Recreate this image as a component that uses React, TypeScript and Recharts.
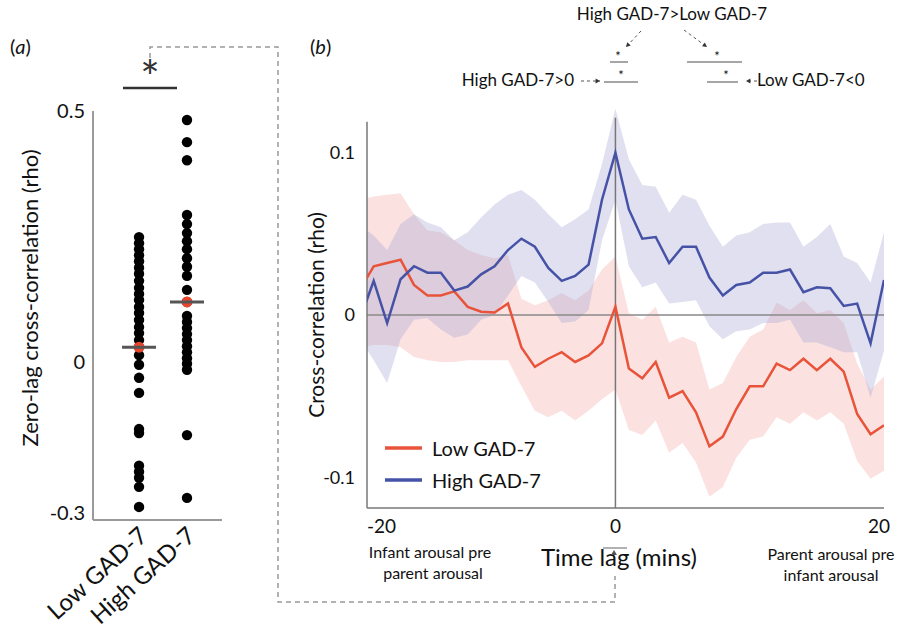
import React from "react";
import {
  ScatterChart,
  ComposedChart,
  Scatter,
  XAxis,
  YAxis,
  Line,
  Area,
  ReferenceLine,
  Legend,
} from "recharts";

const FONT = "Lato, 'Open Sans', sans-serif";

// ---------- Panel (a): zero-lag cross-correlation per participant ----------
const groups = ["Low GAD-7", "High GAD-7"];
const lowGadZeroLag = [
  0.249, 0.237, 0.225, 0.213, 0.201, 0.188, 0.176, 0.162, 0.148, 0.136, 0.124,
  0.11, 0.098, 0.084, 0.07, 0.058, 0.044, 0.03, 0.014, -0.005, -0.031, -0.061,
  -0.133, -0.141, -0.206, -0.218, -0.23, -0.248, -0.288,
];
const highGadZeroLag = [
  0.482, 0.438, 0.402, 0.293, 0.275, 0.257, 0.241, 0.225, 0.207, 0.19, 0.172,
  0.144, 0.12, 0.092, 0.08, 0.068, 0.056, 0.044, 0.032, 0.02, 0.008, -0.003,
  -0.015, -0.145, -0.27,
];
const groupMeans = [0.03, 0.12];
const aYTicks = [-0.3, 0, 0.5];

// ---------- Panel (b): cross-correlation by time lag ----------
const lags = [
  -19, -18, -17, -16, -15, -14, -13, -12, -11, -10, -9, -8, -7, -6, -5, -4, -3,
  -2, -1, 0, 1, 2, 3, 4, 5, 6, 7, 8, 9, 10, 11, 12, 13, 14, 15, 16, 17, 18, 19,
  20,
];
const highMean = [
  -0.002, 0.021, -0.005, 0.022, 0.03, 0.026, 0.026, 0.015, 0.0175, 0.025, 0.03,
  0.04, 0.047, 0.042, 0.029, 0.021, 0.024, 0.031, 0.071, 0.1, 0.065, 0.047,
  0.048, 0.032, 0.042, 0.042, 0.023, 0.012, 0.0185, 0.02, 0.026, 0.026, 0.028,
  0.014, 0.017, 0.0165, 0.0055, 0.007, -0.0175, 0.0215,
];
const highUpper = [
  0.055, 0.049, 0.04, 0.056, 0.062, 0.057, 0.054, 0.046, 0.051, 0.06, 0.068,
  0.074, 0.077, 0.071, 0.062, 0.054, 0.059, 0.065, 0.093, 0.127, 0.096, 0.08,
  0.079, 0.063, 0.074, 0.071, 0.055, 0.042, 0.049, 0.051, 0.056, 0.057, 0.057,
  0.042, 0.048, 0.056, 0.036, 0.032, 0.02, 0.051,
];
const highLower = [
  -0.015, -0.028, -0.042, -0.015, -0.003, -0.002, -0.009, -0.014, -0.012,
  -0.003, 0.0, 0.012, 0.024, 0.02, 0.008, -0.005, -0.004, 0.003, 0.046, 0.071,
  0.03, 0.017, 0.02, 0.007, 0.008, 0.009, -0.007, -0.015, -0.01, -0.009,
  -0.005, -0.005, -0.003, -0.017, -0.017, -0.02, -0.023, -0.023, -0.051,
  -0.022,
];
const lowMean = [
  0.016, 0.03, 0.032, 0.034, 0.0185, 0.012, 0.012, 0.0145, 0.005, 0.002,
  0.0015, 0.007, -0.02, -0.032, -0.027, -0.023, -0.029, -0.025, -0.0175, 0.005,
  -0.033, -0.039, -0.029, -0.051, -0.047, -0.06, -0.081, -0.075, -0.058,
  -0.044, -0.044, -0.03, -0.034, -0.027, -0.034, -0.027, -0.035, -0.061,
  -0.0735, -0.068,
];
const lowUpper = [
  0.071, 0.073, 0.074, 0.075, 0.062, 0.052, 0.051, 0.046, 0.04, 0.037, 0.035,
  0.037, 0.01, 0.006, 0.009, 0.0135, 0.009, 0.015, 0.028, 0.036, 0.001,
  -0.003, 0.005, -0.017, -0.0135, -0.017, -0.046, -0.042, -0.026, -0.0135,
  -0.009, 0.0075, 0.003, 0.009, 0.001, 0.003, -0.005, -0.03, -0.046, -0.038,
];
const lowLower = [
  -0.02, -0.0185, -0.0185, -0.02, -0.026, -0.028, -0.029, -0.029, -0.028,
  -0.028, -0.028, -0.028, -0.044, -0.059, -0.063, -0.059, -0.065, -0.059,
  -0.052, -0.046, -0.071, -0.074, -0.065, -0.085, -0.079, -0.091, -0.112,
  -0.106, -0.088, -0.077, -0.075, -0.063, -0.067, -0.06, -0.065, -0.06, -0.067,
  -0.09, -0.101, -0.096,
];
const bYTicks = [-0.1, 0, 0.1];
const bXTicks = [-18.5, 0, 20];
const bXTickLabels = ["-20", "0", "20"];
const seriesNames = ["Low GAD-7", "High GAD-7"];

const RED = "#e8533a";
const BLUE = "#4652a6";

const pointsA = [
  ...lowGadZeroLag.map((v) => ({ g: 1, v })),
  ...highGadZeroLag.map((v) => ({ g: 2, v })),
];
const meansA = groupMeans.map((v, i) => ({ g: i + 1, v }));

const dataB = lags.map((lag, i) => ({
  lag,
  low: lowMean[i],
  high: highMean[i],
  lowBand: [lowLower[i], lowUpper[i]],
  highBand: [highLower[i], highUpper[i]],
}));

const DotShape = (p: any) => <circle cx={p.cx} cy={p.cy} r={5.2} fill="#000" />;
const MeanShape = (p: any) => (
  <g>
    <circle cx={p.cx} cy={p.cy} r={5.5} fill="#e8452c" />
    <line x1={p.cx - 17} x2={p.cx + 17} y1={p.cy} y2={p.cy} stroke="#555" strokeWidth={3} />
  </g>
);

const ATick = (p: any) => {
  const x = p.x + 10;
  const y = 538;
  return (
    <text
      x={x}
      y={y}
      textAnchor="end"
      fontSize={24}
      fill="#111"
      fontFamily={FONT}
      transform={`rotate(-42, ${x}, ${y})`}
    >
      {groups[p.payload.value - 1]}
    </text>
  );
};

const BXTick = (p: any) => {
  const idx = bXTicks.indexOf(p.payload.value);
  const anchor = idx === 0 ? "start" : "middle";
  const dx = idx === 2 ? -5 : 0;
  return (
    <text x={p.x + dx} y={p.y} dy="0.71em" textAnchor={anchor} fontSize={19} fill="#111" fontFamily={FONT}>
      {bXTickLabels[idx]}
    </text>
  );
};

const LegendBox = () => (
  <div style={{ fontFamily: FONT, fontSize: 20, color: "#111" }}>
    {[RED, BLUE].map((c, i) => (
      <div key={i} style={{ display: "flex", alignItems: "center", height: 32 }}>
        <svg width={47} height={10}>
          <line x1={0} x2={37} y1={5} y2={5} stroke={c} strokeWidth={3.5} />
        </svg>
        <span>{seriesNames[i]}</span>
      </div>
    ))}
  </div>
);

const Arrow = ({ x1, y1, x2, y2 }: any) => {
  const ang = Math.atan2(y2 - y1, x2 - x1);
  const s = 5;
  const p1 = [x2 - s * Math.cos(ang - 0.5), y2 - s * Math.sin(ang - 0.5)];
  const p2 = [x2 - s * Math.cos(ang + 0.5), y2 - s * Math.sin(ang + 0.5)];
  return (
    <g>
      <line x1={x1} y1={y1} x2={x2} y2={y2} stroke="#555" strokeWidth={1} strokeDasharray="3,3" />
      <polygon points={`${x2},${y2} ${p1[0]},${p1[1]} ${p2[0]},${p2[1]}`} fill="#333" />
    </g>
  );
};

export default function App() {
  return (
    <div
      style={{
        position: "absolute",
        left: 0,
        top: 0,
        width: 899,
        height: 628,
        background: "#fff",
        overflow: "hidden",
        fontFamily: FONT,
      }}
    >
      {/* Panel (a) */}
      <div style={{ position: "absolute", left: 0, top: 0 }}>
        <ScatterChart width={280} height={628} margin={{ top: 111, right: 58, bottom: 8, left: 0 }}>
          <XAxis
            type="number"
            dataKey="g"
            domain={[0.04, 2.73]}
            allowDataOverflow
            ticks={[1, 2]}
            interval={0}
            tick={<ATick />}
            tickLine={false}
            axisLine={{ stroke: "#9a9a9a", strokeWidth: 2 }}
            height={100}
          />
          <YAxis
            type="number"
            dataKey="v"
            domain={[-0.314, 0.5]}
            allowDataOverflow
            ticks={aYTicks}
            interval={0}
            width={93}
            tickLine={false}
            axisLine={{ stroke: "#9a9a9a", strokeWidth: 2 }}
            tick={{ fontSize: 20, fill: "#111", fontFamily: FONT }}
          />
          <Scatter data={pointsA} shape={<DotShape />} isAnimationActive={false} />
          <Scatter data={meansA} shape={<MeanShape />} isAnimationActive={false} />
        </ScatterChart>
      </div>

      {/* Panel (b) */}
      <div style={{ position: "absolute", left: 0, top: 0 }}>
        <ComposedChart width={899} height={628} data={dataB} margin={{ top: 104, right: 15, bottom: 80, left: 0 }}>
          <XAxis
            type="number"
            dataKey="lag"
            domain={[-18.5, 20]}
            allowDataOverflow
            ticks={bXTicks}
            interval={0}
            tick={<BXTick />}
            tickLine={false}
            tickMargin={6}
            axisLine={{ stroke: "#777", strokeWidth: 1.5 }}
            height={40}
          />
          <YAxis
            type="number"
            domain={[-0.119, 0.13]}
            allowDataOverflow
            ticks={bYTicks}
            interval={0}
            width={367}
            axisLine={false}
            tickLine={false}
            tickMargin={6}
            tick={{ fontSize: 18, fill: "#111", fontFamily: FONT }}
          />
          <Area dataKey="lowBand" fill="#f4a6a4" fillOpacity={0.33} stroke="none" isAnimationActive={false} />
          <Area dataKey="highBand" fill="#a4a4d4" fillOpacity={0.34} stroke="none" isAnimationActive={false} />
          <ReferenceLine y={0} stroke="#888" strokeWidth={1.5} />
          <ReferenceLine
            segment={[
              { x: -18.5, y: -0.119 },
              { x: -18.5, y: 0.119 },
            ]}
            stroke="#777"
            strokeWidth={1.5}
          />
          <ReferenceLine
            segment={[
              { x: 0, y: -0.119 },
              { x: 0, y: 0.1215 },
            ]}
            stroke="#777"
            strokeWidth={1.5}
          />
          <Line dataKey="low" stroke={RED} strokeWidth={2.5} dot={false} isAnimationActive={false} />
          <Line dataKey="high" stroke={BLUE} strokeWidth={2.5} dot={false} isAnimationActive={false} />
          <Legend
            layout="vertical"
            align="center"
            verticalAlign="middle"
            content={<LegendBox />}
            wrapperStyle={{ left: 385, top: 432, width: 200, height: 64 }}
          />
        </ComposedChart>
      </div>

      {/* Annotations */}
      <svg
        width={899}
        height={628}
        style={{ position: "absolute", left: 0, top: 0, pointerEvents: "none" }}
        fontFamily={FONT}
      >
        <text x={10} y={54} fontSize={20} fill="#111">
          (<tspan fontStyle="italic">a</tspan>)
        </text>
        <text x={310} y={54} fontSize={20} fill="#111">
          (<tspan fontStyle="italic">b</tspan>)
        </text>

        <path
          d="M150,58 L150,47 L278,47 L278,602 L615,602 L615,576"
          fill="none"
          stroke="#999"
          strokeWidth={1.5}
          strokeDasharray="5,4"
        />

        {/* panel a significance */}
        <text x={150} y={94} fontSize={46} textAnchor="middle" fill="#333">*</text>
        <line x1={123} x2={177} y1={88} y2={88} stroke="#333" strokeWidth={2.5} />

        <text transform="translate(38,298) rotate(-90)" textAnchor="middle" fontSize={22} fill="#111">
          Zero-lag cross-correlation (rho)
        </text>
        <text transform="translate(324,315) rotate(-90)" textAnchor="middle" fontSize={21} fill="#111">
          Cross-correlation (rho)
        </text>

        {/* panel b significance annotations */}
        <text x={672} y={20} fontSize={17} textAnchor="middle" fill="#111">High GAD-7&gt;Low GAD-7</text>
        <text x={574} y={86} fontSize={17} textAnchor="end" fill="#111">High GAD-7&gt;0</text>
        <text x={757} y={86} fontSize={17} textAnchor="start" fill="#111">Low GAD-7&lt;0</text>

        <Arrow x1={641} y1={31} x2={626} y2={47} />
        <Arrow x1={684} y1={30} x2={707} y2={47} />
        <Arrow x1={581} y1={81} x2={600} y2={81} />
        <Arrow x1={757} y1={81} x2={746} y2={81} />

        <line x1={610} x2={628} y1={62} y2={62} stroke="#888" strokeWidth={1.5} />
        <line x1={604} x2={638} y1={82} y2={82} stroke="#888" strokeWidth={1.5} />
        <line x1={687} x2={742} y1={62} y2={62} stroke="#888" strokeWidth={1.5} />
        <line x1={707} x2={738} y1={82} y2={82} stroke="#888" strokeWidth={1.5} />
        <text x={618} y={61} fontSize={13} textAnchor="middle" fill="#111">*</text>
        <text x={621} y={80} fontSize={13} textAnchor="middle" fill="#111">*</text>
        <text x={717} y={61} fontSize={13} textAnchor="middle" fill="#111">*</text>
        <text x={726} y={80} fontSize={13} textAnchor="middle" fill="#111">*</text>

        {/* x-axis captions */}
        <text x={619} y={566} fontSize={24} textAnchor="middle" fill="#111">Time lag (mins)</text>
        <line x1={603} x2={627} y1={548} y2={548} stroke="#999" strokeWidth={1.5} />
        <polygon points="614,550 611,555 617,555" fill="#555" />
        <text x={430} y={558} fontSize={16} textAnchor="middle" fill="#111">Infant arousal pre</text>
        <text x={433} y={579} fontSize={16} textAnchor="middle" fill="#111">parent arousal</text>
        <text x={831} y={560} fontSize={16} textAnchor="middle" fill="#111">Parent arousal pre</text>
        <text x={831} y={581} fontSize={16} textAnchor="middle" fill="#111">infant arousal</text>
      </svg>
    </div>
  );
}
